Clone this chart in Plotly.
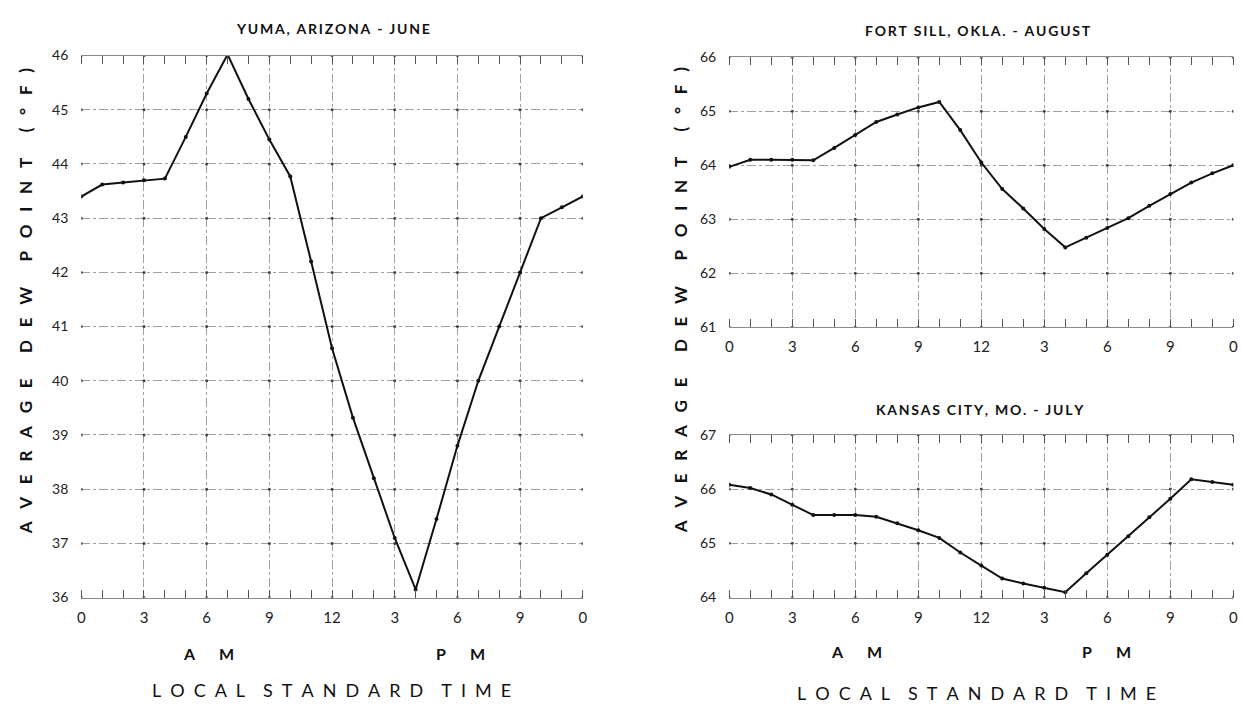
import plotly.graph_objects as go

hours = list(range(25))
yuma = [43.40, 43.62, 43.66, 43.70, 43.73, 44.50, 45.30, 46.02, 45.20, 44.45, 43.77,
        42.20, 40.60, 39.32, 38.20, 37.10, 36.15, 37.45, 38.80, 40.00, 41.00, 42.00,
        43.00, 43.20, 43.40]
fort_sill = [63.97, 64.10, 64.10, 64.10, 64.09, 64.32, 64.56, 64.80, 64.94, 65.07, 65.17,
             64.65, 64.05, 63.56, 63.20, 62.82, 62.48, 62.66, 62.84, 63.02, 63.25, 63.47,
             63.68, 63.85, 64.00]
kansas_city = [66.08, 66.02, 65.90, 65.71, 65.52, 65.52, 65.52, 65.49, 65.37, 65.24, 65.10,
               64.83, 64.59, 64.35, 64.26, 64.18, 64.10, 64.45, 64.79, 65.13, 65.48, 65.82,
               66.18, 66.13, 66.08]

x_tickvals = [0, 3, 6, 9, 12, 15, 18, 21, 24]
x_ticktext = ["0", "3", "6", "9", "12", "3", "6", "9", "0"]

titles = ["YUMA, ARIZONA - JUNE", "FORT SILL, OKLA. - AUGUST", "KANSAS CITY, MO. - JULY"]
y_ranges = [(36, 46), (61, 66), (64, 67)]
series = [yuma, fort_sill, kansas_city]

FONT = "Lato"
fig = go.Figure()

x_domains = [(0.0627, 0.4694), (0.5882, 0.9970), (0.5882, 0.9970)]
y_domains = [(0.1675, 0.9341), (0.5497, 0.9319), (0.1675, 0.3978)]

for i, vals in enumerate(series):
    n = "" if i == 0 else str(i + 1)
    lo, hi = y_ranges[i]
    # grid intersection dots
    gx = [x for x in x_tickvals for _ in range(lo, hi + 1)]
    gy = [y for _ in x_tickvals for y in range(lo, hi + 1)]
    fig.add_trace(go.Scatter(
        x=gx, y=gy, mode="markers", marker=dict(color="#444444", size=3),
        xaxis="x" + n, yaxis="y" + n, showlegend=False, hoverinfo="skip"))
    fig.add_trace(go.Scatter(
        x=hours, y=vals, mode="lines+markers",
        line=dict(color="#111111", width=2),
        marker=dict(color="#111111", size=4),
        xaxis="x" + n, yaxis="y" + n, showlegend=False, hoverinfo="skip"))
    fig.update_layout(**{
        "xaxis" + n: dict(
            domain=list(x_domains[i]), range=[0, 24], anchor="y" + n,
            tickmode="array", tickvals=x_tickvals, ticktext=x_ticktext,
            showgrid=True, gridcolor="#a0a0a0", griddash="dashdot", gridwidth=1,
            zeroline=False, showline=True, linecolor="#8a8a8a", linewidth=1,
            mirror="allticks", ticks="", ticklen=0, ticklabelstandoff=6,
            minor=dict(dtick=1, tick0=0, ticks="inside", ticklen=8,
                       tickcolor="#555555", showgrid=False),
            tickfont=dict(family=FONT, size=15, color="#222222"),
        ),
        "yaxis" + n: dict(
            domain=list(y_domains[i]), range=[lo, hi], anchor="x" + n,
            tickmode="linear", tick0=lo, dtick=1,
            showgrid=True, gridcolor="#a0a0a0", griddash="dashdot", gridwidth=1,
            zeroline=False, showline=False, ticks="", ticklabelstandoff=12,
            tickfont=dict(family=FONT, size=14, color="#222222"),
        ),
    })

ann = []
def add(text, x, y, size, bold=False, angle=0):
    ann.append(dict(text=f"<b>{text}</b>" if bold else text, x=x, y=y, xref="paper",
                    yref="paper", xanchor="center", yanchor="middle", showarrow=False,
                    textangle=angle, font=dict(family=FONT, size=size, color="#111111")))

thin = "\u2009"
def letterspace(t):
    return thin.join(list(t))

add(letterspace(titles[0]), 0.2665, 0.9724, 14, bold=True)
add(letterspace(titles[1]), 0.790, 0.9696, 14, bold=True)
add(letterspace(titles[2]), 0.7915, 0.4337, 14, bold=True)

em = "\u2003"
def spaced(words, gap):
    return (gap * 2).join(gap.join(list(w)) for w in words)

ytitle = spaced(["AVERAGE", "DEW", "POINT", "(°F)"], em)
add(ytitle, 0.0170, 0.588, 17, bold=True, angle=-90)
add(ytitle, 0.5483, 0.588, 17, bold=True, angle=-90)

am = "A" + em + em + "M"
pm = "P" + em + em + "M"
lst = spaced(["LOCAL", "STANDARD", "TIME"], "\u2002")
add(am, 0.166, 0.0884, 16, bold=True)
add(pm, 0.370, 0.0884, 16, bold=True)
add(lst, 0.2657, 0.0373, 18)
add(am, 0.691, 0.0912, 16, bold=True)
add(pm, 0.894, 0.0912, 16, bold=True)
add(lst, 0.789, 0.0331, 18)

fig.update_layout(
    width=1242, height=724, margin=dict(l=0, r=0, t=0, b=0),
    paper_bgcolor="white", plot_bgcolor="white", annotations=ann,
)

fig.write_html("out.html")
